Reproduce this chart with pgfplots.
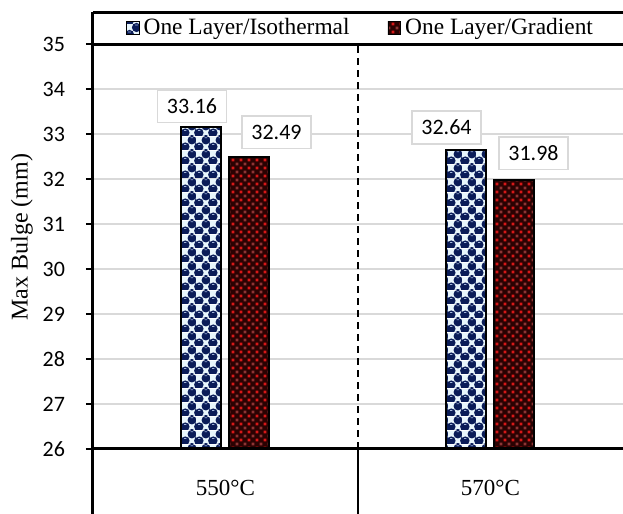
\documentclass[border=0pt]{standalone}
\usepackage{pgfplots}
\pgfplotsset{compat=1.18}
\usepackage{pgfplotstable}
\usepackage{fontspec}
\setmainfont{Liberation Serif}
\newfontfamily\carlito{Carlito}
\usetikzlibrary{patterns}

\definecolor{gridgray}{HTML}{D9D9D9}
\definecolor{isonavy}{HTML}{0A1C58}
\definecolor{isobg}{HTML}{E8F6FC}
\definecolor{isohl}{HTML}{9FB3D8}
\definecolor{gradbg}{HTML}{2A0202}
\definecolor{gradA}{HTML}{D81818}
\definecolor{gradB}{HTML}{8E3434}

% navy balls on a light checkerboard
\pgfdeclarepatterninherentlycolored{isopat}
{\pgfpointorigin}{\pgfpoint{7pt}{7pt}}
{\pgfpoint{7pt}{7pt}}
{
  \pgfsetfillcolor{isobg}
  \pgfpathrectangle{\pgfpointorigin}{\pgfpoint{7pt}{7pt}}
  \pgfusepath{fill}
  \pgfsetfillcolor{isonavy}
  \pgfpathcircle{\pgfpoint{1.75pt}{1.75pt}}{2.3pt}
  \pgfpathcircle{\pgfpoint{5.25pt}{5.25pt}}{2.3pt}
  \pgfpathcircle{\pgfpoint{8.75pt}{1.75pt}}{2.3pt}
  \pgfpathcircle{\pgfpoint{5.25pt}{-1.75pt}}{2.3pt}
  \pgfusepath{fill}
  \pgfsetfillcolor{isohl}
  \pgfpathrectangle{\pgfpoint{1.1pt}{2.8pt}}{\pgfpoint{1.3pt}{0.4pt}}
  \pgfpathrectangle{\pgfpoint{4.6pt}{6.3pt}}{\pgfpoint{1.3pt}{0.4pt}}
  \pgfusepath{fill}
}

% red squares on dark maroon
\pgfdeclarepatterninherentlycolored{gradpat}
{\pgfpointorigin}{\pgfpoint{4pt}{4pt}}
{\pgfpoint{4pt}{4pt}}
{
  \pgfsetfillcolor{gradbg}
  \pgfpathrectangle{\pgfpointorigin}{\pgfpoint{4pt}{4pt}}
  \pgfusepath{fill}
  \pgfsetfillcolor{gradA}
  \pgfpathrectangle{\pgfpoint{0.3pt}{0.3pt}}{\pgfpoint{1.4pt}{1.4pt}}
  \pgfusepath{fill}
  \pgfsetfillcolor{gradB}
  \pgfpathrectangle{\pgfpoint{2.3pt}{2.3pt}}{\pgfpoint{1.4pt}{1.4pt}}
  \pgfusepath{fill}
}

% x: category, dx/dy: label offset (pt)
\pgfplotstableread{
x y dx dy
0 33.16 -4.75 1.75
1 32.64 -10 2.75
}\isodata
\pgfplotstableread{
x y dx dy
0 32.49 13.5 3.75
1 31.98 9.5 4.75
}\graddata

\begin{document}
\begin{tikzpicture}
\path[use as bounding box] (0,0) rectangle (311.5pt,257pt);
\begin{axis}[
    at={(46.5pt,32.5pt)}, anchor=south west,
    width=265pt, height=202.5pt, scale only axis,
    ybar=4pt, bar width=20pt,
    xmin=-0.5, xmax=1.5,
    ymin=26, ymax=35,
    xtick={0,1},
    xticklabels={550°C,570°C},
    ytick={26,...,35},
    xtick style={draw=none},
    ytick pos=left,
    tick align=outside,
    major tick length=3.5pt,
    ytick style={black, line width=1pt},
    axis line style={draw=none},
    ymajorgrids,
    grid style={gridgray, line width=0.8pt},
    clip mode=individual,
    /pgf/number format/assume math mode=true,
    yticklabel style={font=\carlito\fontsize{11}{13}\selectfont, xshift=-7pt},
    xticklabel style={font=\fontsize{11.5}{13}\selectfont, anchor=center, yshift=-16pt},
    ylabel={Max Bulge (mm)},
    ylabel style={font=\fontsize{12}{14}\selectfont, at={(axis description cs:-0.1340,0.523)}, anchor=center},
    nodes near coords style={font=\carlito\fontsize{11}{13}\selectfont,
        draw=gridgray, line width=0.8pt, fill=white,
        inner xsep=4.75pt, inner ysep=4.6pt, text height=7.2pt, text depth=0pt},
    legend image code/.code={\draw[#1, line width=0.4pt] (0pt,-3.2pt) rectangle (6.4pt,3.2pt);},
    legend columns=2,
    legend style={at={(axis description cs:0.5066,1.0395)}, anchor=center,
        draw=none, fill=none, font=\fontsize{11.7}{14}\selectfont,
        /tikz/every even column/.append style={column sep=17pt}},
]
\addplot[draw=black, line width=1pt, pattern=isopat,
    nodes near coords,
    visualization depends on={\thisrow{dx}\as\dx},
    visualization depends on={\thisrow{dy}\as\dy},
    every node near coord/.append style={xshift=\dx pt, yshift=\dy pt}]
    table[x=x, y=y] {\isodata};
\addplot[draw=black, line width=1pt, pattern=gradpat,
    nodes near coords,
    visualization depends on={\thisrow{dx}\as\dx},
    visualization depends on={\thisrow{dy}\as\dy},
    every node near coord/.append style={xshift=\dx pt, yshift=\dy pt}]
    table[x=x, y=y] {\graddata};
\legend{One Layer/Isothermal, One Layer/Gradient}

% frame: legend box, category table, divider
\draw[line width=1.5pt] (rel axis cs:0,-0.1605) -- (rel axis cs:0,1.079);
\draw[line width=1.5pt] (rel axis cs:0,1.079) -- (rel axis cs:1,1.079);
\draw[line width=1.5pt] (rel axis cs:0,1) -- (rel axis cs:1,1);
\draw[line width=1.5pt] (rel axis cs:0,0) -- (rel axis cs:1,0);
\draw[line width=1.2pt] (rel axis cs:0.5,0) -- (rel axis cs:0.5,-0.1605);
\draw[line width=1pt, dash pattern=on 3.5pt off 2.5pt] (rel axis cs:0.5,0) -- (rel axis cs:0.5,1);
\end{axis}
\end{tikzpicture}
\end{document}
